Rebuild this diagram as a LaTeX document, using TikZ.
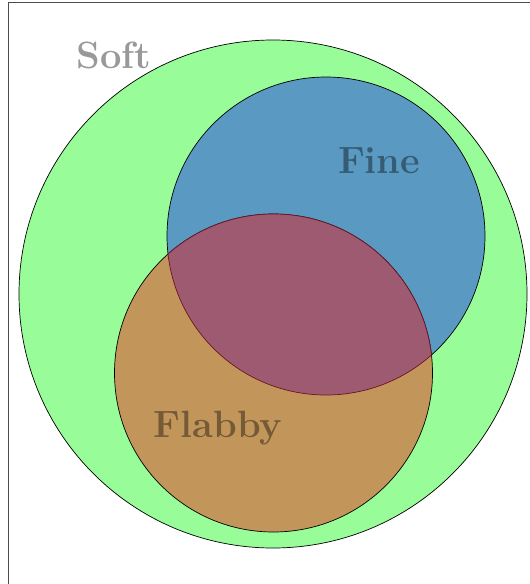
\documentclass[tikz,border=0pt]{standalone}
\usetikzlibrary{positioning}
\definecolor{softgreen}{RGB}{152,253,152}
\definecolor{fineblue}{RGB}{90,154,194}
\definecolor{flabbybrown}{RGB}{194,150,90}
\definecolor{bothred}{RGB}{158,90,112}
\definecolor{bothline}{RGB}{110,20,35}
\begin{document}
\begin{tikzpicture}[x=1pt,y=-1pt,
  set/.style={circle,draw=black,line width=0.7pt,inner sep=0pt,outer sep=0pt},
  lbl/.style={font=\fontsize{38}{42}\selectfont\bfseries,text opacity=0.4,inner sep=0pt,anchor=base}
]
  \useasboundingbox (0,0) rectangle (530,584);
  \draw[line width=1.2pt, black!70] (8.5,2.5) rectangle (600,640);
  % the three sets
  \node[set,fill=softgreen,minimum size=508pt] (soft) at (273,294) {};
  \node[set,fill=fineblue,minimum size=318pt] (fine) at (326,236) {};
  \node[set,fill=flabbybrown,minimum size=318pt] (flabby) at (273.5,373) {};
  % overlap of fine and flabby
  \begin{scope}
    \clip (fine.center) circle[radius=159pt];
    \filldraw[fill=bothred,draw=bothline,line width=0.7pt] (flabby.center) circle[radius=159pt];
  \end{scope}
  \begin{scope}
    \clip (flabby.center) circle[radius=159pt];
    \draw[bothline,line width=0.7pt] (fine.center) circle[radius=159pt];
  \end{scope}
  % labels
  \node[lbl] (softlbl) at (114,68) {Soft};
  \node[lbl] (finelbl) at (379,173) {Fine};
  \node[lbl] (flabbylbl) at (218,437) {Flabby};
\end{tikzpicture}
\end{document}
